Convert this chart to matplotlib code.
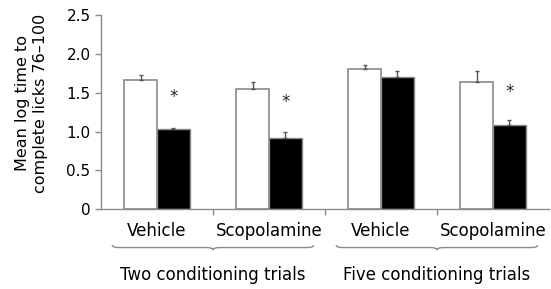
import matplotlib
matplotlib.use('Agg')
from matplotlib import pyplot as plt
from matplotlib.path import Path
from matplotlib.patches import PathPatch
import numpy as np

# bar chart: mean log time to complete licks 76-100
conditions = ['Vehicle', 'Scopolamine', 'Vehicle', 'Scopolamine']
groups = ['Two conditioning trials', 'Five conditioning trials']
white_means = [1.66, 1.55, 1.80, 1.64]
white_err = [0.07, 0.09, 0.06, 0.14]
black_means = [1.03, 0.92, 1.70, 1.08]
black_err = [0.02, 0.07, 0.08, 0.07]
stars = [1.45, 1.38, None, 1.51]     # asterisk heights (None = no asterisk)
yticks = [0, 0.5, 1.0, 1.5, 2.0, 2.5]
ytick_labels = ['0', '0.5', '1.0', '1.5', '2.0', '2.5']

edge = '#8a8a8a'
errc = '#555555'

fig = plt.figure(figsize=(5.51, 2.89), dpi=100)
ax = fig.add_axes([0.1833, 0.2758, 0.813, 0.672])

x = np.arange(len(conditions))
w = 0.293
ax.bar(x - w/2, white_means, w, color='white', edgecolor=edge, linewidth=1.2, zorder=2)
ax.bar(x + w/2, black_means, w, color='black', edgecolor=edge, linewidth=1.0, zorder=2)
ax.errorbar(x - w/2, white_means, yerr=[np.zeros(4), white_err], fmt='none',
            ecolor=errc, elinewidth=1.0, capsize=1.5, capthick=1.0, zorder=3)
ax.errorbar(x + w/2, black_means, yerr=[np.zeros(4), black_err], fmt='none',
            ecolor=errc, elinewidth=1.0, capsize=1.5, capthick=1.0, zorder=3)

for i, s in enumerate(stars):
    if s is not None:
        ax.text(x[i] + w/2, s, '*', ha='center', va='center', fontsize=12, color='#222222')

ax.set_xlim(-0.5, len(conditions) - 0.5)
ax.set_ylim(0, 2.5)
ax.set_yticks(yticks)
ax.set_yticklabels(ytick_labels, fontsize=11)
ax.tick_params(axis='y', length=4, width=1, color=edge, pad=3.5, direction='out')

ax.set_xticks(x)
ax.set_xticklabels(conditions, fontsize=12)
ax.tick_params(axis='x', which='major', length=0, pad=9)
ax.set_xticks([0.5, 1.5, 2.5], minor=True)
ax.tick_params(axis='x', which='minor', length=4, width=1, color=edge, direction='out')

for side in ['top', 'right']:
    ax.spines[side].set_visible(False)
for side in ['left', 'bottom']:
    ax.spines[side].set_color(edge)
    ax.spines[side].set_linewidth(1.0)

# curly braces under each pair of categories
trans = ax.get_xaxis_transform()
for xc in [0.5, 2.5]:
    y0, y1, y2 = -0.184, -0.197, -0.21
    verts = [(xc - 0.9, y0), (xc - 0.9, y1), (xc - 0.84, y1),
             (xc - 0.06, y1), (xc, y1), (xc, y2),
             (xc, y1), (xc + 0.06, y1),
             (xc + 0.84, y1), (xc + 0.9, y1), (xc + 0.9, y0)]
    codes = [Path.MOVETO, Path.CURVE3, Path.CURVE3,
             Path.LINETO, Path.CURVE3, Path.CURVE3,
             Path.CURVE3, Path.CURVE3,
             Path.LINETO, Path.CURVE3, Path.CURVE3]
    ax.add_patch(PathPatch(Path(verts, codes), transform=trans, fill=False,
                           edgecolor=edge, linewidth=1.0, clip_on=False))

for xc, g in zip([0.5, 2.5], groups):
    ax.text(xc, -0.338, g, transform=trans, ha='center', va='center', fontsize=12)

fig.text(0.058, 0.644, 'Mean log time to\ncomplete licks 76\u2013100', rotation=90,
         ha='center', va='center', fontsize=11.5, multialignment='center', linespacing=1.25)

fig.savefig('out.png', dpi=100)
